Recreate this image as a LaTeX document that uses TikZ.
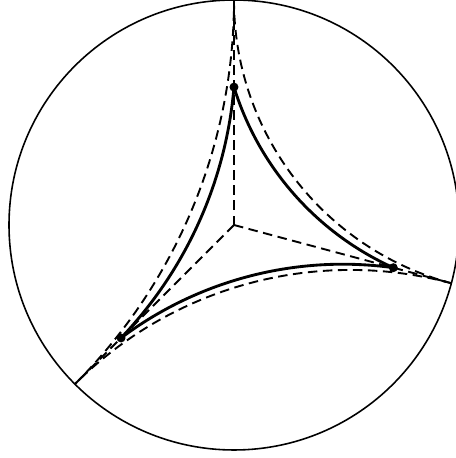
\documentclass[tikz,border=0pt]{standalone}
\usepackage{tikz}

\begin{document}
\begin{tikzpicture}[scale=5,
    disk/.style={line width=1pt},
    geo/.style={line width=1.8pt},
    ideal/.style={line width=1.2pt, dash pattern=on 6pt off 3.5pt}
]
    \useasboundingbox (-1.04,-1.0356) rectangle (0.9867,1.0);

    % unit disk and its centre
    \coordinate (O) at (0,0);
    \draw[disk] (O) circle[radius=1];

    % ideal points on the boundary
    \coordinate (P1) at (90:1);
    \coordinate (P2) at (-15:1);
    \coordinate (P3) at (-135:1);

    % finite vertices
    \coordinate (A) at (90:0.613);
    \coordinate (B) at (-15:0.733);
    \coordinate (C) at (-135:0.71);

    % rays from the centre
    \draw[ideal] (O) -- (P1);
    \draw[ideal] (O) -- (P2);
    \draw[ideal] (O) -- (P3);

    % ideal triangle
    \draw[ideal] (P1) arc[start angle=180, end angle=255, radius=1.303225];
    \draw[ideal] (P2) arc[start angle=75, end angle=135, radius=1.732051];
    \draw[ideal] (P3) arc[start angle=-45, end angle=0, radius=2.414214];

    % triangle with finite vertices
    \draw[geo] (A) arc[start angle=197.16, end angle=245.67, radius=1.30278];
    \draw[geo] (B) arc[start angle=82.14, end angle=126.81, radius=1.64412];
    \draw[geo] (C) arc[start angle=-43.66, end angle=-4.82, radius=1.83863];

    \fill (A) circle[radius=0.02];
    \fill (B) circle[radius=0.02];
    \fill (C) circle[radius=0.02];
\end{tikzpicture}
\end{document}
